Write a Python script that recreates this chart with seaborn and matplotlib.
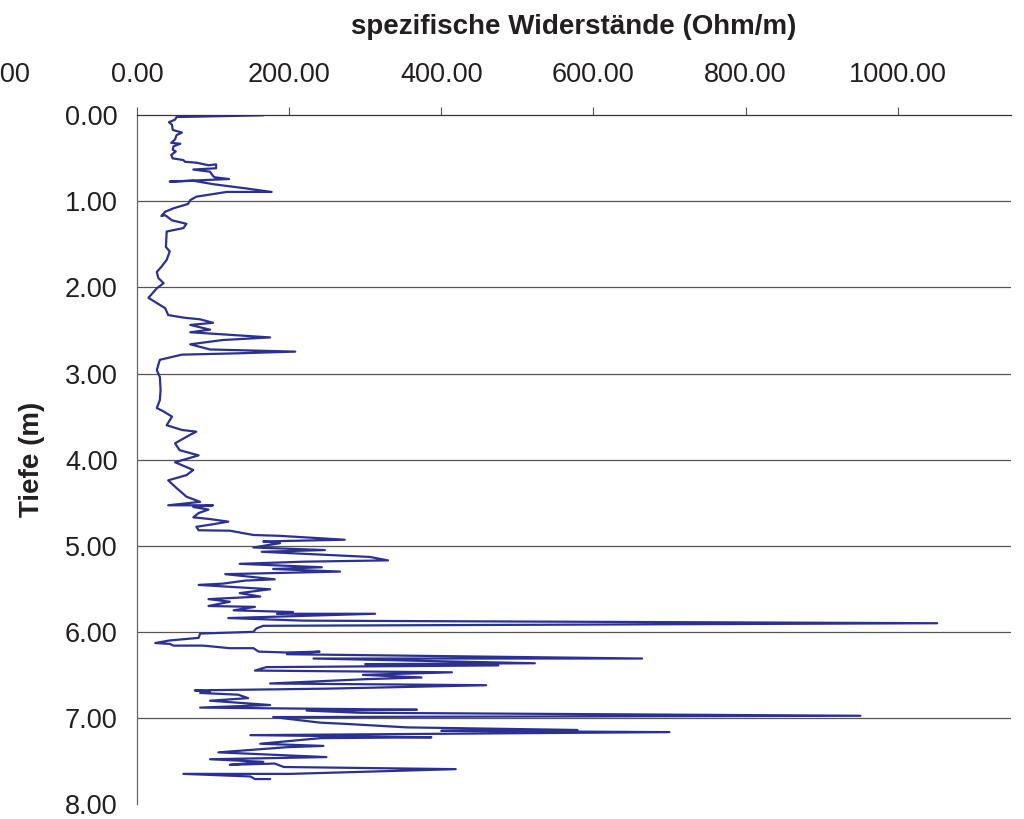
import numpy as np
import matplotlib
matplotlib.use("Agg")
import matplotlib.pyplot as plt
import seaborn as sns

tiefe = [
    0.00, 0.02, 0.05, 0.08, 0.11, 0.17, 0.20, 0.23, 0.28, 0.32,
    0.33, 0.36, 0.40, 0.42, 0.46, 0.50, 0.52, 0.54, 0.55, 0.58,
    0.57, 0.615, 0.63, 0.655, 0.705, 0.72, 0.74, 0.77, 0.76, 0.80,
    0.85, 0.89, 0.89, 0.945, 0.985, 1.03, 1.08, 1.12, 1.17, 1.16,
    1.22, 1.26, 1.31, 1.35, 1.53, 1.58, 1.68, 1.76, 1.82, 1.89,
    1.95, 2.01, 2.12, 2.18, 2.24, 2.32, 2.35, 2.37, 2.41, 2.435,
    2.49, 2.52, 2.55, 2.58, 2.61, 2.66, 2.72, 2.745, 2.765, 2.78,
    2.84, 2.96, 3.04, 3.19, 3.31, 3.40, 3.44, 3.50, 3.60, 3.655,
    3.675, 3.71, 3.81, 3.89, 3.95, 4.03, 4.12, 4.18, 4.24, 4.33,
    4.43, 4.49, 4.53, 4.53, 4.55, 4.58, 4.62, 4.67, 4.69, 4.72,
    4.75, 4.78, 4.82, 4.825, 4.875, 4.885, 4.93, 4.95, 4.97, 5.02,
    5.05, 5.07, 5.13, 5.17, 5.185, 5.21, 5.25, 5.27, 5.30, 5.33,
    5.39, 5.405, 5.44, 5.455, 5.505, 5.55, 5.59, 5.62, 5.65, 5.70,
    5.71, 5.75, 5.77, 5.79, 5.79, 5.84, 5.87, 5.90, 5.93, 5.96,
    6.00, 6.02, 6.07, 6.10, 6.13, 6.14, 6.16, 6.16, 6.19, 6.19,
    6.23, 6.24, 6.23, 6.26, 6.31, 6.31, 6.365, 6.375, 6.39, 6.41,
    6.45, 6.47, 6.50, 6.53, 6.55, 6.60, 6.62, 6.66, 6.68, 6.695,
    6.71, 6.73, 6.77, 6.80, 6.85, 6.88, 6.905, 6.915, 6.94, 6.975,
    6.99, 7.055, 7.07, 7.11, 7.14, 7.15, 7.165, 7.20, 7.225, 7.235,
    7.30, 7.325, 7.34, 7.40, 7.455, 7.48, 7.51, 7.545, 7.53, 7.57,
    7.595, 7.65, 7.65, 7.68, 7.71, 7.71,
]
widerstand = [
    166, 52, 50, 42, 46, 47, 59, 52, 50, 45,
    57, 48, 47, 51, 45, 47, 61, 63, 78, 94,
    104, 104, 74, 96, 100, 102, 121, 43, 74, 100,
    144, 177, 118, 78, 70, 67, 48, 37, 32, 37,
    46, 65, 61, 39, 38, 43, 39, 32, 26, 28,
    35, 26, 15, 26, 37, 41, 61, 83, 100, 70,
    96, 70, 122, 175, 113, 70, 96, 208, 131, 59,
    30, 26, 30, 31, 30, 26, 35, 46, 39, 59,
    78, 70, 50, 56, 81, 50, 74, 65, 41, 52,
    65, 83, 41, 100, 74, 94, 81, 74, 96, 120,
    100, 78, 81, 122, 153, 188, 273, 166, 188, 153,
    247, 164, 306, 330, 219, 135, 243, 179, 267, 116,
    181, 142, 113, 81, 175, 135, 162, 94, 122, 94,
    155, 127, 205, 184, 313, 120, 219, 1052, 166, 157,
    153, 83, 81, 43, 24, 43, 48, 87, 122, 153,
    160, 197, 240, 197, 664, 232, 523, 300, 475, 170,
    155, 414, 297, 374, 300, 175, 459, 250, 76, 96,
    83, 133, 146, 96, 175, 83, 368, 223, 293, 951,
    179, 241, 276, 355, 579, 400, 700, 149, 387, 241,
    162, 245, 197, 107, 249, 96, 166, 122, 181, 193,
    419, 201, 61, 149, 155, 175,
]

x_ticks = [0, 200, 400, 600, 800, 1000]
y_ticks = [0, 1, 2, 3, 4, 5, 6, 7, 8]

sns.set_style("white")
plt.rcParams["font.family"] = ["Liberation Sans", "DejaVu Sans"]

fig = plt.figure(figsize=(10.24, 8.19), dpi=100)
ax = fig.add_axes([0.1338, 0.0183, 0.8535, 0.8409])

sns.lineplot(x=widerstand, y=tiefe, sort=False, estimator=None,
             color="#2b3192", linewidth=1.6, ax=ax)

ax.set_xlim(0, 1149)
ax.set_ylim(8, 0)
ax.set_xticks(x_ticks)
ax.set_yticks(y_ticks)
ax.xaxis.tick_top()
ax.xaxis.set_major_formatter(matplotlib.ticker.FormatStrFormatter("%.2f"))
ax.yaxis.set_major_formatter(matplotlib.ticker.FormatStrFormatter("%.2f"))
ax.tick_params(axis="x", direction="out", length=6, width=0.8, color="#555555",
               labelsize=19.5, pad=14, labelcolor="#231f20")
ax.tick_params(axis="y", direction="out", length=6, width=0.8, color="#555555",
               labelsize=19.5, pad=8, labelcolor="#231f20")

# horizontal lines only between the end ticks (none at 8.00)
ax.grid(False)
for g in y_ticks[1:-1]:
    ax.axhline(g, color="#555555", linewidth=0.9, zorder=0)
for s in ["right", "bottom"]:
    ax.spines[s].set_visible(False)
ax.spines["left"].set_color("#666666")
ax.spines["top"].set_color("#333333")
ax.spines["left"].set_linewidth(0.9)
ax.spines["top"].set_linewidth(0.9)

# cut-off label at the left edge (-200.00)
ax.annotate("-200.00", xy=(-200, 1.0), xycoords=ax.get_xaxis_transform(),
            xytext=(0, 6 + 14), textcoords="offset points",
            ha="center", va="bottom", fontsize=19.5, color="#231f20",
            annotation_clip=False)

ax.xaxis.set_label_position("top")
ax.set_xlabel("spezifische Widerstände (Ohm/m)", fontsize=20, fontweight="bold",
              labelpad=20, color="#231f20")
ax.set_ylabel("Tiefe (m)", fontsize=20, fontweight="bold", labelpad=14,
              color="#231f20")

fig.savefig("out.png", dpi=100)
